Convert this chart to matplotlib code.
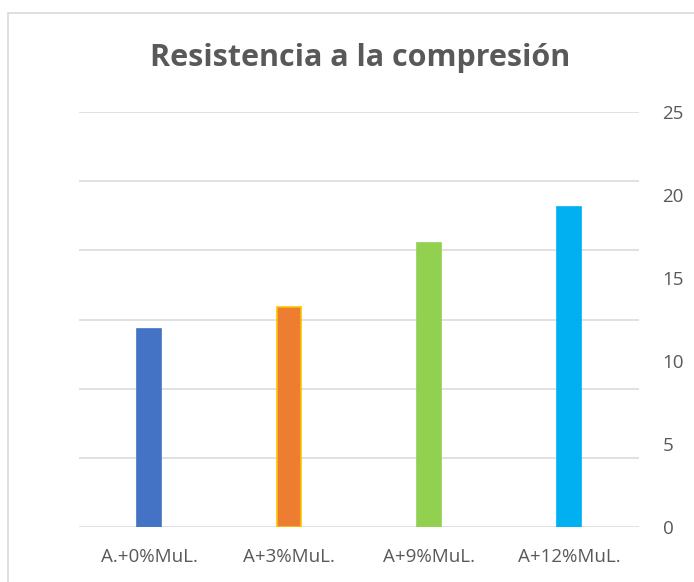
import matplotlib.pyplot as plt
from matplotlib.patches import Rectangle
import numpy as np

# compressive strength per mix
categories = ['A.+0%MuL.', 'A+3%MuL.', 'A+9%MuL.', 'A+12%MuL.']
resistencia = [11.9, 13.25, 17.1, 19.3]
colores = ['#4472C4', '#ED7D31', '#92D050', '#00B0F0']
bordes = ['#4472C4', '#FFC000', '#92D050', '#00B0F0']

texto = '#595959'
plt.rcParams['font.family'] = ['Open Sans', 'DejaVu Sans']

fig = plt.figure(figsize=(6.94, 5.82), dpi=100)

# chart area frame
fig.patches.append(Rectangle((8/694, -0.1), 1.0, 1 - 13/582 + 0.1,
                             transform=fig.transFigure, fill=False,
                             edgecolor='#d9d9d9', linewidth=1.2))

# primary axis only carries the gridlines (0-30, hidden labels)
ax = fig.add_axes([79/694, 1 - 527/582, 560/694, (527 - 112)/582])
ax2 = ax.twinx()

ax.set_ylim(0, 30)
ax.set_yticks(np.arange(0, 31, 5))
ax.yaxis.grid(True, color='#d9d9d9', linewidth=1.1)
ax.set_axisbelow(True)
ax.tick_params(axis='y', left=False, right=False, labelleft=False,
               labelright=False)
for s in ax.spines.values():
    s.set_visible(False)

# bars against the labelled right axis (0-25)
x = np.arange(len(categories))
ax2.bar(x, resistencia, width=0.175, color=colores, edgecolor=bordes,
        linewidth=1.2, zorder=3)
ax2.set_ylim(0, 25)
ax2.set_yticks(np.arange(0, 26, 5))
ax2.set_xlim(-0.5, len(categories) - 0.5)
ax2.tick_params(axis='y', length=0, pad=17, labelsize=13.5, labelcolor=texto)
for s in ax2.spines.values():
    s.set_visible(False)

ax.set_xlim(-0.5, len(categories) - 0.5)
ax.set_xticks(x)
ax.set_xticklabels(categories)
ax.tick_params(axis='x', length=0, pad=15, labelsize=13.5, labelcolor=texto)

fig.text(360/694, 1 - 58/582, 'Resistencia a la compresión', ha='center',
         va='center', fontsize=22, fontweight='bold', color=texto)

fig.savefig('out.png', dpi=100)
